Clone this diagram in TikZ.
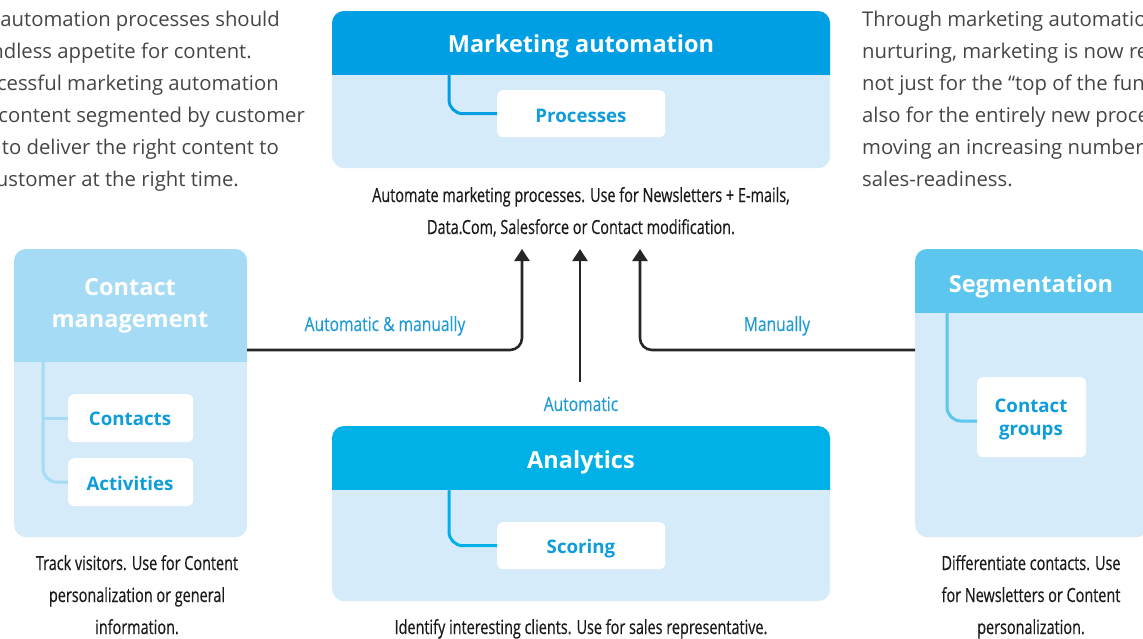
\documentclass[tikz,border=0pt]{standalone}
\usepackage{fontspec}
\setmainfont{Open Sans}
\newfontfamily\condf[FakeStretch=0.74,FakeBold=0.4]{Open Sans}
\newfontfamily\condl[FakeStretch=0.80,FakeBold=0.3]{Open Sans}
\usetikzlibrary{arrows.meta}
\definecolor{mahead}{HTML}{009FE3}
\definecolor{anhead}{HTML}{00B1E7}
\definecolor{cmhead}{HTML}{A5DBF4}
\definecolor{seghead}{HTML}{5DC6EE}
\definecolor{bodyc}{HTML}{D5EBF9}
\definecolor{subblue}{HTML}{0E9CDB}
\definecolor{lblue}{HTML}{1E9BD7}
\definecolor{paragray}{HTML}{454545}
\definecolor{capc}{HTML}{1A1A1A}
\definecolor{arrc}{HTML}{262626}
\tikzset{
 boxbody/.style={fill=bodyc, rounded corners=12pt, inner sep=0pt, anchor=north west},
 subbox/.style={fill=white, rounded corners=6pt, inner sep=0pt, anchor=north west},
 titletxt/.style={text=white, font=\bfseries\fontsize{23.5}{28}\selectfont, anchor=base, inner sep=0pt},
 subtxt/.style={text=subblue, font=\bfseries\fontsize{18.7}{24}\selectfont, anchor=base, inner sep=0pt},
 paratxt/.style={text=paragray, font=\fontsize{20.3}{32}\selectfont, inner sep=0pt},
 captxt/.style={text=capc, font=\condf\fontsize{19.5}{32}\selectfont, anchor=base, inner sep=0pt},
 lbltxt/.style={text=lblue, font=\condl\fontsize{19.5}{24}\selectfont, anchor=base, inner sep=0pt},
 flow/.style={draw=arrc, line width=2.6pt, rounded corners=12pt, -{Triangle[width=15pt,length=12pt]}},
 tree/.style={line width=3pt, rounded corners=14pt},
}
\begin{document}
\begin{tikzpicture}[x=1pt,y=-1pt]
\useasboundingbox (0,0) rectangle (1143,638);
\clip (0,0) rectangle (1143,638);

% ---------- side paragraphs ----------
\node[paratxt, anchor=base east] (l1) at (280,26) {automation processes should};
\node[paratxt, anchor=base east] (l2) at (252,58) {endless appetite for content.};
\node[paratxt, anchor=base east] (l3) at (279,90) {successful marketing automation};
\node[paratxt, anchor=base east] (l4) at (305,122) {content segmented by customer};
\node[paratxt, anchor=base east] (l5) at (279,154) {to deliver the right content to};
\node[paratxt, anchor=base east] (l6) at (239,186) {customer at the right time.};

\node[paratxt, anchor=base west] (r1) at (862,26) {Through marketing automation};
\node[paratxt, anchor=base west] (r2) at (862,58) {nurturing, marketing is now responsible};
\node[paratxt, anchor=base west] (r3) at (862,90) {not just for the “top of the funnel”};
\node[paratxt, anchor=base west] (r4) at (862,122) {also for the entirely new process};
\node[paratxt, anchor=base west] (r5) at (862,154) {moving an increasing number};
\node[paratxt, anchor=base west] (r6) at (862,186) {sales-readiness.};

% ---------- Marketing automation ----------
\node[boxbody, minimum width=498pt, minimum height=157pt] (ma) at (332,11) {};
\begin{scope}
 \clip (332,11) rectangle (830,74);
 \fill[mahead, rounded corners=12pt] (332,11) rectangle (830,168);
\end{scope}
\node[titletxt] (maT) at (581,52) {Marketing automation};
\node[subbox, minimum width=168pt, minimum height=47pt] (proc) at (497,90) {};
\node[subtxt] (procT) at (581,122) {Processes};
\coordinate (maA) at (449,73);
\draw[tree, draw=mahead] (maA) |- (proc.west);
\node[captxt] (maC1) at (581,202) {Automate marketing processes. Use for Newsletters + E-mails,};
\node[captxt] (maC2) at (581,234) {Data.Com, Salesforce or Contact modification.};

% ---------- Contact management ----------
\node[boxbody, minimum width=233pt, minimum height=288pt] (cm) at (14,249) {};
\begin{scope}
 \clip (14,249) rectangle (247,361);
 \fill[cmhead, rounded corners=12pt] (14,249) rectangle (247,537);
\end{scope}
\node[titletxt] (cmT1) at (130,295) {Contact};
\node[titletxt] (cmT2) at (130,327) {management};
\node[subbox, minimum width=125pt, minimum height=48pt] (con) at (68,394) {};
\node[subtxt] (conT) at (130,425) {Contacts};
\node[subbox, minimum width=125pt, minimum height=48pt] (act) at (68,458) {};
\node[subtxt] (actT) at (130,490) {Activities};
\coordinate (cmA) at (43,361);
\draw[tree, draw=cmhead] (cmA) |- (act.west);
\draw[tree, draw=cmhead] (cmA |- con.west) -- (con.west);
\node[captxt] (cmC1) at (137,570) {Track visitors. Use for Content};
\node[captxt] (cmC2) at (137,602) {personalization or general};
\node[captxt] (cmC3) at (137,634) {information.};

% ---------- Segmentation ----------
\node[boxbody, minimum width=233pt, minimum height=288pt] (seg) at (915,249) {};
\begin{scope}
 \clip (915,249) rectangle (1148,312);
 \fill[seghead, rounded corners=12pt] (915,249) rectangle (1148,537);
\end{scope}
\node[titletxt] (segT) at (1031,292) {Segmentation};
\node[subbox, minimum width=109pt, minimum height=80pt] (cg) at (977,377) {};
\node[subtxt] (cgT1) at (1031,412) {Contact};
\node[subtxt] (cgT2) at (1031,435) {groups};
\coordinate (segA) at (947,312);
\coordinate (cgIn) at (977,421);
\draw[tree, draw=seghead] (segA) |- (cgIn);
\node[captxt] (segC1) at (1031,570) {Differentiate contacts. Use};
\node[captxt] (segC2) at (1031,602) {for Newsletters or Content};
\node[captxt] (segC3) at (1031,634) {personalization.};

% ---------- Analytics ----------
\node[boxbody, minimum width=498pt, minimum height=175pt] (an) at (332,426) {};
\begin{scope}
 \clip (332,426) rectangle (830,489);
 \fill[anhead, rounded corners=12pt] (332,426) rectangle (830,601);
\end{scope}
\node[titletxt] (anT) at (581,468) {Analytics};
\node[subbox, minimum width=168pt, minimum height=47pt] (sco) at (497,522) {};
\node[subtxt] (scoT) at (581,553) {Scoring};
\coordinate (anA) at (449,489);
\draw[tree, draw=anhead] (anA) |- (sco.west);
\node[captxt] (anC) at (581,634) {Identify interesting clients. Use for sales representative.};

% ---------- flows ----------
\coordinate (cmOut) at (247,350);
\coordinate (segOut) at (915,350);
\coordinate (anOut) at (580,382);
\coordinate (t1) at (522,249);
\coordinate (t2) at (580,249);
\coordinate (t3) at (640,249);
\draw[flow] (cmOut) -| (t1);
\draw[flow] (anOut) -- (t2);
\draw[flow] (segOut) -| (t3);
\node[lbltxt] (lab1) at (385,331) {Automatic \& manually};
\node[lbltxt] (lab2) at (777,331) {Manually};
\node[lbltxt] (lab3) at (581,411) {Automatic};
\end{tikzpicture}
\end{document}
